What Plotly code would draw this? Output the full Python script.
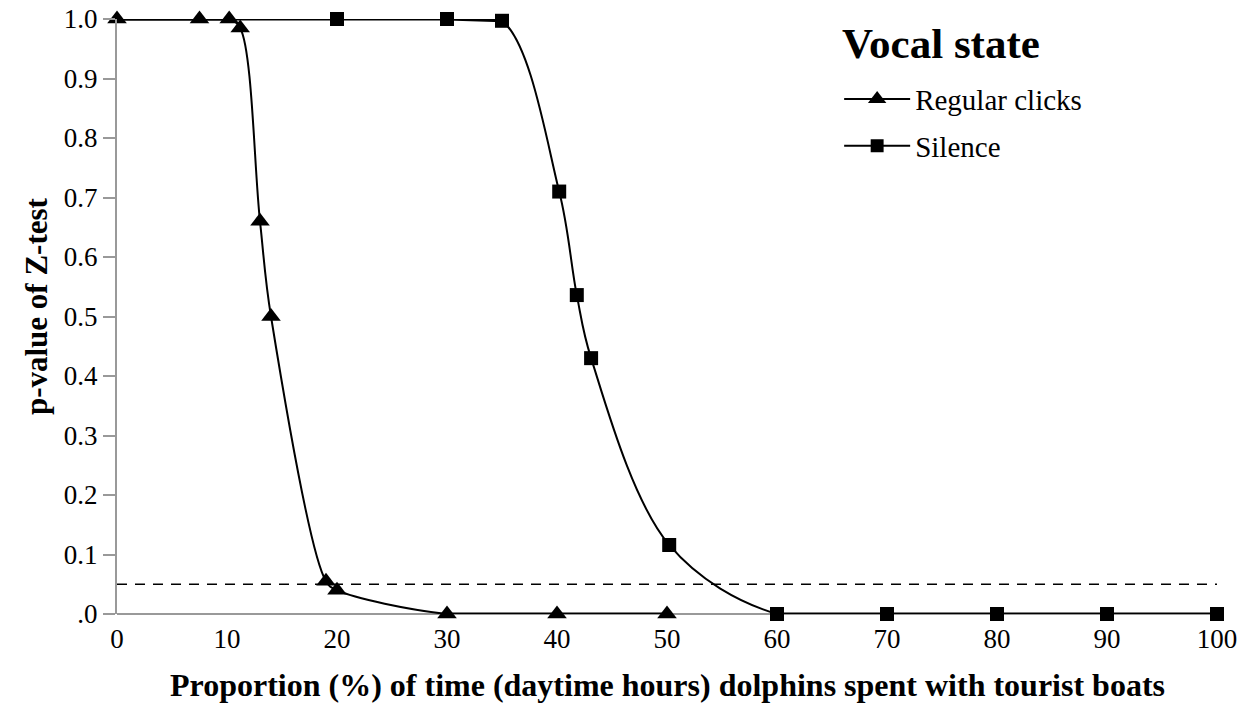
import plotly.graph_objects as go

# Data
clicks_x = [0, 7.5, 10.2, 11.2, 13, 14, 19, 20, 30, 40, 50]
clicks_y = [1.0, 1.0, 1.0, 0.985, 0.66, 0.5, 0.055, 0.04, 0.0, 0.0, 0.0]

silence_x = [0, 20, 30, 35, 40.2, 41.8, 43.1, 50.2, 60, 70, 80, 90, 100]
silence_y = [1.0, 1.0, 1.0, 0.997, 0.71, 0.536, 0.43, 0.116, 0.0, 0.0, 0.0, 0.0, 0.0]
silence_marker_size = [0] + [14] * (len(silence_x) - 1)

threshold = 0.05
x_ticks = [0, 10, 20, 30, 40, 50, 60, 70, 80, 90, 100]
y_ticks = [0, 0.1, 0.2, 0.3, 0.4, 0.5, 0.6, 0.7, 0.8, 0.9, 1.0]
y_tick_text = [".0", "0.1", "0.2", "0.3", "0.4", "0.5", "0.6", "0.7", "0.8", "0.9", "1.0"]

FONT = "Liberation Serif"

fig = go.Figure()

fig.add_trace(go.Scatter(
    x=[0, 100], y=[threshold, threshold], mode="lines",
    line=dict(color="black", width=1.5, dash="10px,8px"),
    showlegend=False, hoverinfo="skip"))

# flat (plateau) stretches drawn straight under the smoothed curves
for xs, ys in [(silence_x[:4], silence_y[:4]), (silence_x[8:], silence_y[8:]),
               (clicks_x[:3], clicks_y[:3]), (clicks_x[8:], clicks_y[8:])]:
    fig.add_trace(go.Scatter(
        x=xs, y=ys, mode="lines", line=dict(color="black", width=3),
        showlegend=False, hoverinfo="skip"))

fig.add_trace(go.Scatter(
    x=silence_x, y=silence_y, mode="lines+markers", name="Silence",
    line=dict(color="black", width=2, shape="spline", smoothing=1),
    marker=dict(symbol="square", size=silence_marker_size, color="black",
                opacity=1, line=dict(width=0)),
    cliponaxis=False, legendrank=2, legendgroup="s"))

fig.add_trace(go.Scatter(
    x=clicks_x, y=clicks_y, mode="lines+markers", name="Regular clicks",
    line=dict(color="black", width=2, shape="spline", smoothing=1),
    marker=dict(symbol="triangle-up", size=17, color="black", opacity=1,
                line=dict(width=0)),
    cliponaxis=False, legendrank=1, legendgroup="c"))

fig.update_layout(
    width=1250, height=709,
    margin=dict(l=117, r=33, t=19, b=95),
    plot_bgcolor="white", paper_bgcolor="white",
    font=dict(family=FONT, size=27, color="black"),
    showlegend=True,
    legend=dict(
        x=0.6565, y=0.908, xanchor="left", yanchor="top",
        font=dict(size=29, family=FONT),
        tracegroupgap=6, itemwidth=66,
        bgcolor="rgba(0,0,0,0)",
    ),
    annotations=[
        dict(text="<b>Vocal state</b>", xref="paper", yref="paper",
             x=0.657, y=0.958, xanchor="left", yanchor="middle", showarrow=False,
             font=dict(size=43, family=FONT, color="black")),
        dict(text="<b>p-value of Z-test</b>", xref="paper", yref="paper",
             x=-0.0736, y=0.5176, xanchor="center", yanchor="middle", showarrow=False,
             textangle=-90, font=dict(size=31, family=FONT, color="black")),
        dict(text="<b>Proportion (%) of time (daytime hours) dolphins spent with tourist boats</b>",
             xref="paper", yref="paper", x=0.5, y=-0.1193,
             xanchor="center", yanchor="middle", showarrow=False,
             font=dict(size=32, family=FONT, color="black")),
    ],
    xaxis=dict(
        range=[0, 100], tickvals=x_ticks, showgrid=False, zeroline=False,
        showline=False, ticks="", tickfont=dict(size=27, family=FONT),
        ticklabelstandoff=6, automargin=False,
    ),
    yaxis=dict(
        range=[0, 1.0], tickvals=y_ticks, ticktext=y_tick_text,
        showgrid=False, zeroline=True, zerolinecolor="#999999", zerolinewidth=2,
        showline=True, linecolor="#999999", linewidth=2,
        ticks="outside", ticklen=12, tickcolor="#999999", tickwidth=2,
        tickfont=dict(size=27, family=FONT), automargin=False,
    ),
)

fig.write_html("out.html")
